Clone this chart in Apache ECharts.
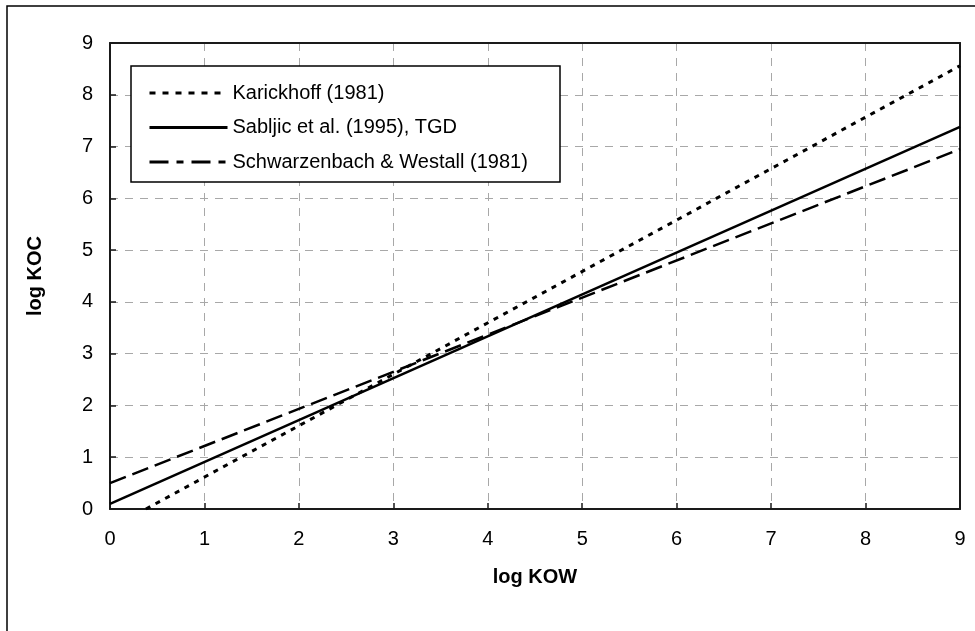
<!DOCTYPE html>
<html>
<head>
<meta charset="utf-8">
<script src="https://cdn.jsdelivr.net/npm/echarts@6/dist/echarts.min.js"></script>
<style>
html,body{margin:0;padding:0;background:#fff;}
#chart{width:975px;height:631px;}
</style>
</head>
<body>
<div id="chart"></div>
<script>
const seriesNames = ['Karickhoff (1981)', 'Sabljic et al. (1995), TGD', 'Schwarzenbach & Westall (1981)'];
const karickhoff = [[0.38, 0], [9, 8.56]];
const sabljic = [[0, 0.1], [9, 7.38]];
const schwarzenbach = [[0, 0.5], [9, 6.95]];
const xTicks = [0, 1, 2, 3, 4, 5, 6, 7, 8, 9];
const yTicks = [0, 1, 2, 3, 4, 5, 6, 7, 8, 9];

const FONT = 'Liberation Sans, Arial, sans-serif';
const chart = echarts.init(document.getElementById('chart'), null, {renderer: 'canvas'});

const axisCommon = {
  min: 0, max: 9, interval: 1,
  axisLine: {show: true, onZero: false, lineStyle: {color: '#1a1a1a', width: 2}},
  axisTick: {show: true, inside: true, length: 6, lineStyle: {color: '#1a1a1a', width: 1.5}},
  splitLine: {show: true, lineStyle: {color: '#a8a8a8', width: 1, type: [8, 7]}},
  axisLabel: {color: '#000', fontSize: 20, fontFamily: FONT},
  nameTextStyle: {color: '#000', fontSize: 20, fontWeight: 'bold', fontFamily: FONT},
  nameLocation: 'middle'
};
const frameAxis = {
  type: 'value', min: 0, max: 9, interval: 1,
  axisLine: {show: true, onZero: false, lineStyle: {color: '#1a1a1a', width: 2}},
  axisTick: {show: false}, axisLabel: {show: false}, splitLine: {show: false}
};

chart.setOption({
  backgroundColor: '#fff',
  animation: false,
  grid: {left: 110, top: 43, right: 15, bottom: 122, containLabel: false},
  graphic: [
    {type: 'rect', z: -10, shape: {x: 7, y: 6, width: 1000, height: 700}, style: {fill: '#fff', stroke: '#000', lineWidth: 1.5}},
    {type: 'rect', z: 100, shape: {x: 131, y: 66, width: 429, height: 116}, style: {fill: '#fff', stroke: '#000', lineWidth: 1.5}}
  ],
  legend: {
    orient: 'vertical', left: 148, top: 83, padding: 0,
    itemWidth: 78, itemHeight: 14, itemGap: 14.5,
    z: 200,
    itemStyle: {color: 'rgba(0,0,0,0)', borderWidth: 0, opacity: 0},
    lineStyle: {width: 3},
    textStyle: {color: '#000', fontSize: 20, fontFamily: FONT},
    data: [
      {name: seriesNames[0], lineStyle: {width: 3, type: [6, 7]}},
      {name: seriesNames[1], lineStyle: {width: 3}},
      {name: seriesNames[2], lineStyle: {width: 3, type: [19, 8, 7, 8]}}
    ]
  },
  xAxis: [
    Object.assign({}, axisCommon, {
      type: 'value', name: 'log KOW', nameGap: 58,
      axisLabel: Object.assign({}, axisCommon.axisLabel, {margin: 20, formatter: v => xTicks.includes(v) ? String(v) : ''})
    }),
    Object.assign({}, frameAxis, {position: 'top'})
  ],
  yAxis: [
    Object.assign({}, axisCommon, {
      type: 'value', name: 'log KOC', nameGap: 65, nameRotate: 90,
      axisLabel: Object.assign({}, axisCommon.axisLabel, {margin: 17, formatter: v => yTicks.includes(v) ? String(v) : ''})
    }),
    Object.assign({}, frameAxis, {position: 'right'})
  ],
  series: [
    {name: seriesNames[0], type: 'line', data: karickhoff, showSymbol: false, symbol: 'none',
     lineStyle: {color: '#000', width: 3, type: [5, 6]}, itemStyle: {color: '#000'}},
    {name: seriesNames[1], type: 'line', data: sabljic, showSymbol: false, symbol: 'none',
     lineStyle: {color: '#000', width: 2.5, type: 'solid'}, itemStyle: {color: '#000'}},
    {name: seriesNames[2], type: 'line', data: schwarzenbach, showSymbol: false, symbol: 'none',
     lineStyle: {color: '#000', width: 2.5, type: [17, 7]}, itemStyle: {color: '#000'}}
  ]
});
</script>
</body>
</html>
